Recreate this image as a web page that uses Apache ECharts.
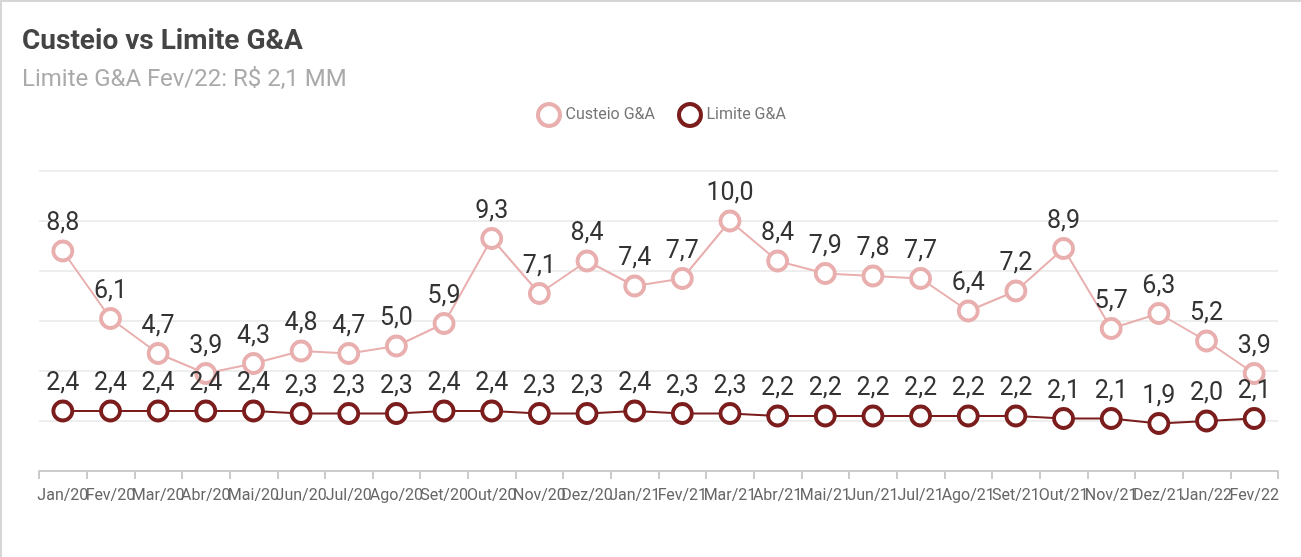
<!DOCTYPE html>
<html>
<head>
<meta charset="utf-8">
<script src="https://cdn.jsdelivr.net/npm/echarts@6/dist/echarts.min.js"></script>
<style>
body{
    margin: 0;
    background-color: #ffffff;
}
.chart-card{
    width: 1299px;
    height: 555px;
    border-top: 2px solid #d6d6d6;
    border-left: 2px solid #d6d6d6;
}
</style>
</head>
<body>
<div id="chart" class="chart-card"></div>
<script>
const months = ['Jan/20','Fev/20','Mar/20','Abr/20','Mai/20','Jun/20','Jul/20','Ago/20','Set/20','Out/20','Nov/20','Dez/20',
    'Jan/21','Fev/21','Mar/21','Abr/21','Mai/21','Jun/21','Jul/21','Ago/21','Set/21','Out/21','Nov/21','Dez/21','Jan/22','Fev/22']
const custeio = [8.8, 6.1, 4.7, 3.9, 4.3, 4.8, 4.7, 5.0, 5.9, 9.3, 7.1, 8.4,
    7.4, 7.7, 10.0, 8.4, 7.9, 7.8, 7.7, 6.4, 7.2, 8.9, 5.7, 6.3, 5.2, 3.9]
const limite = [2.4, 2.4, 2.4, 2.4, 2.4, 2.3, 2.3, 2.3, 2.4, 2.4, 2.3, 2.3,
    2.4, 2.3, 2.3, 2.2, 2.2, 2.2, 2.2, 2.2, 2.2, 2.1, 2.1, 1.9, 2.0, 2.1]

const pink = '#e8afae'
const wine = '#7b1d1c'

function fmt(p){
    return p.value.toFixed(1).replace('.', ',')
}

function lineSeries(name, data, color){
    return {
        name: name,
        type: 'line',
        data: data,
        symbol: 'circle',
        symbolSize: 19,
        lineStyle: {color: color, width: 2},
        itemStyle: {color: '#ffffff', borderColor: color, borderWidth: 3.8},
        label: {
            show: true,
            position: 'top',
            distance: 3,
            color: '#333333',
            fontSize: 25,
            fontFamily: 'Roboto',
            formatter: fmt
        },
        emphasis: {disabled: true}
    }
}

const myChart = echarts.init(document.getElementById('chart'))
myChart.setOption({
    animation: false,
    textStyle: {fontFamily: 'Roboto'},
    title: {
        text: 'Custeio vs Limite G&A',
        subtext: 'Limite G&A Fev/22: R$ 2,1 MM',
        left: 20,
        top: 26,
        padding: 0,
        itemGap: 12,
        textStyle: {fontSize: 28, fontWeight: 'bold', color: '#444444', fontFamily: 'Roboto'},
        subtextStyle: {fontSize: 24, color: '#aaaaaa', fontFamily: 'Roboto'}
    },
    legend: {
        top: 95,
        left: 529,
        itemWidth: 23,
        itemHeight: 22,
        itemGap: 22,
        icon: 'circle',
        textStyle: {fontSize: 16, color: '#777777', fontFamily: 'Roboto'},
        data: [
            {name: 'Custeio G&A', itemStyle: {color: '#ffffff', borderColor: pink, borderWidth: 4}},
            {name: 'Limite G&A', itemStyle: {color: '#ffffff', borderColor: wine, borderWidth: 4}}
        ]
    },
    grid: {left: 37, right: 23, top: 169, bottom: 86},
    xAxis: {
        type: 'category',
        data: months,
        boundaryGap: true,
        axisLine: {lineStyle: {color: '#cccccc', width: 2}},
        axisTick: {show: true, length: 8, lineStyle: {color: '#cccccc', width: 2}},
        axisLabel: {color: '#666666', fontSize: 16, margin: 17, interval: 0, fontFamily: 'Roboto'}
    },
    yAxis: {
        type: 'value',
        min: 0,
        max: 12,
        interval: 2,
        axisLabel: {show: false},
        axisLine: {show: false},
        axisTick: {show: false},
        splitLine: {lineStyle: {color: '#eeeeee', width: 2}}
    },
    series: [
        lineSeries('Custeio G&A', custeio, pink),
        lineSeries('Limite G&A', limite, wine)
    ]
})
</script>
</body>
</html>
